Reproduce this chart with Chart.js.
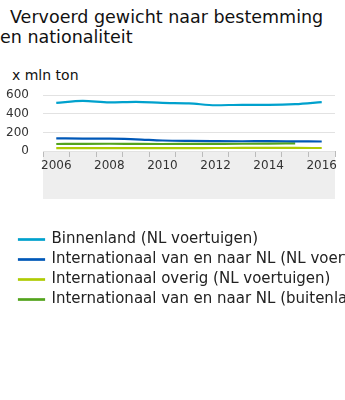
<!DOCTYPE html>
<html>
<head>
<meta charset="utf-8">
<script src="https://cdn.jsdelivr.net/npm/chart.js@4"></script>
<style>
  body { margin: 0; background: #fff; font-family: "DejaVu Sans", sans-serif; }
  #wrap { position: relative; width: 345px; height: 400px; overflow: hidden; }
  #title { position: absolute; left: 0; top: 7px; width: 330px; font-size: 17.5px; line-height: 20px; color: #111; text-indent: 10px; }
  #unit { position: absolute; left: 12px; top: 67px; font-size: 14px; color: #111; }
  #box { position: absolute; left: 0; top: 74px; width: 345px; height: 243px; }
</style>
</head>
<body>
<div id="wrap">
  <div id="title">Vervoerd gewicht naar bestemming en nationaliteit</div>
  <div id="unit">x mln ton</div>
  <div id="box"><canvas id="chart"></canvas></div>
</div>
<script>
// jaren en reeksen (x mln ton)
const years = ['2006', '2007', '2008', '2009', '2010', '2011', '2012', '2013', '2014', '2015', '2016'];
const binnenland = [517, 538, 522, 528, 517, 512, 492, 497, 496, 503, 526];
const internationaalNL = [135, 134, 132, 126, 113, 108, 106, 105, 106, 104, 102];
const internationaalOverig = [30, 31, 31, 30, 30, 31, 32, 33, 33, 33, 32];
const internationaalBuitenland = [75, 77, 78, 76, 75, 76, 77, 78, 80, 83, null];
const yTicks = [0, 200, 400, 600];

const seriesNames = [
    'Binnenland (NL voertuigen)',
    'Internationaal van en naar NL (NL voertuigen)',
    'Internationaal overig (NL voertuigen)',
    'Internationaal van en naar NL (buitenlandse voertuigen)'
];
const colors = ['#00a1cd', '#0058b8', '#afcb05', '#53a31d'];
const values = [binnenland, internationaalNL, internationaalOverig, internationaalBuitenland];

// grijs vlak onder de x-as, legenda iets naar rechts
const axisBand = {
    id: 'axisBand',
    afterLayout(chart) {
        chart.legend.left += 14;
        chart.legend.right += 14;
    },
    beforeDraw(chart) {
        const x = chart.scales.x;
        const ctx = chart.ctx;
        ctx.save();
        ctx.fillStyle = '#eeeeee';
        ctx.fillRect(x.left, x.top, x.right - x.left, 48);
        ctx.restore();
    }
};

const ctx = document.getElementById('chart').getContext('2d');
new Chart(ctx, {
    type: 'line',
    data: {
        labels: years,
        datasets: values.map(function (v, i) {
            return {
                label: seriesNames[i],
                data: v,
                borderColor: colors[i],
                backgroundColor: colors[i],
                borderWidth: 2.2,
                pointRadius: 0,
                cubicInterpolationMode: 'monotone',
                fill: false
            };
        })
    },
    options: {
        responsive: true,
        maintainAspectRatio: false,
        animation: false,
        layout: { padding: { top: 0, left: 0, right: 10, bottom: 0 } },
        scales: {
            x: {
                offset: true,
                grid: { offset: true, drawOnChartArea: false, color: '#bbbbbb', tickLength: 6 },
                border: { display: false },
                ticks: {
                    autoSkip: false,
                    maxRotation: 0,
                    padding: 2,
                    color: '#333',
                    font: { family: 'DejaVu Sans', size: 12 },
                    callback: function (val, idx) { return idx % 2 === 0 ? years[idx] : ''; }
                },
                afterFit: function (scale) { scale.height = 76; }
            },
            y: {
                min: 0,
                max: 600,
                afterBuildTicks: function (scale) { scale.ticks = yTicks.map(function (v) { return { value: v }; }); },
                afterFit: function (scale) { scale.width = 43; },
                grid: { color: '#e2e2e2', drawTicks: false },
                border: { display: false },
                ticks: {
                    autoSkip: false,
                    padding: 14,
                    color: '#333',
                    font: { family: 'DejaVu Sans', size: 12 }
                }
            }
        },
        plugins: {
            legend: {
                position: 'bottom',
                align: 'start',
                labels: {
                    boxWidth: 25,
                    boxHeight: 0.5,
                    padding: 5,
                    color: '#222',
                    font: { family: 'DejaVu Sans', size: 15 }
                }
            },
            tooltip: { enabled: false }
        }
    },
    plugins: [axisBand]
});
</script>
</body>
</html>
